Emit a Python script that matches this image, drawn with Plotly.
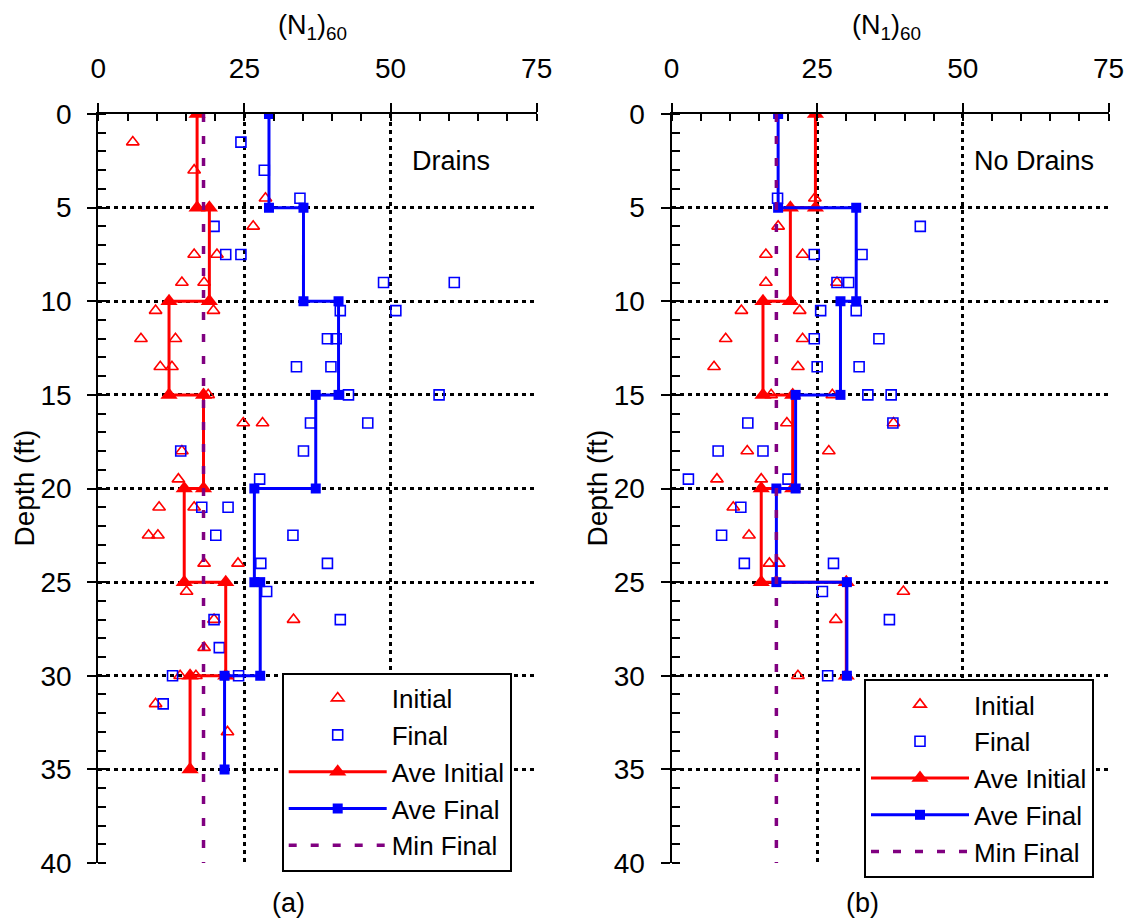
import plotly.graph_objects as go

# ---- data: SPT blow counts (N1)60 versus depth (ft) ----
# Site with drains
drains_init_depth = [1.5, 3, 4.5, 6, 7.5, 7.5, 9, 9, 10.5, 10.5, 12, 12, 13.5, 13.5, 15,
                     16.5, 16.5, 18, 19.5, 21, 21, 22.5, 22.5, 24, 24, 25.5, 27, 27,
                     28.5, 30, 30, 31.5, 33]
drains_init_n = [5.9, 16.4, 28.6, 26.5, 16.4, 20.3, 14.3, 18.1, 9.8, 19.7, 7.3, 13.2, 10.6,
                 12.6, 18.8, 24.8, 28.1, 14.3, 13.7, 10.4, 16.4, 8.6, 10.2, 18.1, 23.9,
                 15.1, 19.8, 33.4, 18.1, 14.0, 16.7, 9.8, 22.1]
drains_final_depth = [1.5, 3, 4.5, 6, 7.5, 7.5, 9, 9, 10.5, 10.5, 12, 12, 13.5, 13.5, 15, 15,
                      16.5, 16.5, 18, 18, 19.5, 21, 21, 22.5, 22.5, 24, 24, 25.5, 27, 27,
                      28.5, 30, 30, 31.5]
drains_final_n = [24.4, 28.4, 34.5, 19.8, 21.8, 24.4, 48.8, 60.9, 41.4, 50.9, 39.2, 40.7,
                  33.9, 39.8, 42.8, 58.3, 36.3, 46.1, 14.1, 35.1, 27.6, 17.7, 22.2, 20.1,
                  33.3, 27.8, 39.2, 28.8, 19.8, 41.4, 20.7, 12.7, 24.0, 11.1]
drains_layer_top = [0, 5, 10, 15, 20, 25, 30]
drains_ave_init = [16.9, 19.0, 12.1, 18.0, 14.7, 21.8, 15.7]
drains_ave_final = [29.2, 35.1, 41.1, 37.2, 26.7, 27.7, 21.6]
drains_min_final = 18.0

# Site without drains
nodrains_init_depth = [4.5, 6, 7.5, 7.5, 9, 9, 10.5, 10.5, 12, 12, 13.5, 13.5, 15, 15, 16.5,
                       16.5, 18, 18, 19.5, 19.5, 21, 22.5, 24, 24, 25.5, 27, 30]
nodrains_init_n = [24.6, 18.3, 16.2, 22.5, 16.2, 28.4, 12.0, 22.0, 9.3, 22.5, 7.3, 21.7,
                   17.1, 27.6, 19.8, 38.1, 13.0, 27.0, 7.8, 15.4, 10.6, 13.3, 16.8, 18.4,
                   39.8, 28.2, 21.7]
nodrains_final_depth = [4.5, 6, 7.5, 7.5, 9, 9, 10.5, 10.5, 12, 12, 13.5, 13.5, 15, 15, 16.5,
                        16.5, 18, 18, 19.5, 19.5, 21, 22.5, 24, 24, 25.5, 27, 30]
nodrains_final_n = [18.2, 42.7, 24.5, 32.7, 28.4, 30.4, 25.6, 31.7, 24.5, 35.6, 25.0, 32.2,
                    33.7, 37.7, 13.1, 38.0, 8.0, 15.7, 2.9, 20.0, 11.9, 8.6, 12.5, 27.8,
                    25.9, 37.4, 26.8]
nodrains_layer_top = [0, 5, 10, 15, 20, 25]
nodrains_ave_init = [24.7, 20.4, 15.7, 20.8, 15.4, 30.0]
nodrains_ave_final = [18.3, 31.7, 29.0, 21.3, 18.0, 30.1]
nodrains_min_final = 18.0

layer_thickness = 5
depth_span = [0, 40]
x_range = [0, 75]
x_ticks = [0, 25, 50, 75]
y_ticks = [0, 5, 10, 15, 20, 25, 30, 35, 40]

FONT = "Liberation Sans"
RED = "#ff0000"
BLUE = "#0000ff"
PURPLE = "#800080"


def step_profile(tops, values, thick):
    """Layer averages drawn as a stepped profile with a vertex at each layer boundary."""
    xs, ys = [], []
    for top, v in zip(tops, values):
        xs += [v, v]
        ys += [top, top + thick]
    return xs, ys


fig = go.Figure()


def add_panel(xa, ya, legend, init_d, init_n, fin_d, fin_n, tops, ave_i, ave_f, min_f):
    fig.add_trace(go.Scatter(
        x=init_n, y=init_d, mode="markers", name="Initial", xaxis=xa, yaxis=ya, legend=legend,
        marker=dict(symbol="triangle-up-open", size=11, color=RED, line=dict(width=1.6, color=RED))))
    fig.add_trace(go.Scatter(
        x=fin_n, y=fin_d, mode="markers", name="Final", xaxis=xa, yaxis=ya, legend=legend,
        marker=dict(symbol="square-open", size=10, color=BLUE, line=dict(width=1.6, color=BLUE))))
    sx, sy = step_profile(tops, ave_i, layer_thickness)
    fig.add_trace(go.Scatter(
        x=sx, y=sy, mode="lines+markers", name="Ave Initial", xaxis=xa, yaxis=ya, legend=legend,
        line=dict(color=RED, width=3),
        marker=dict(symbol="triangle-up", size=15, color=RED)))
    sx, sy = step_profile(tops, ave_f, layer_thickness)
    fig.add_trace(go.Scatter(
        x=sx, y=sy, mode="lines+markers", name="Ave Final", xaxis=xa, yaxis=ya, legend=legend,
        line=dict(color=BLUE, width=3),
        marker=dict(symbol="square", size=10, color=BLUE)))
    fig.add_trace(go.Scatter(
        x=[min_f, min_f], y=depth_span, mode="lines", name="Min Final", xaxis=xa, yaxis=ya,
        legend=legend, line=dict(color=PURPLE, width=3.5, dash="8px,14px")))


add_panel("x", "y", "legend", drains_init_depth, drains_init_n, drains_final_depth,
          drains_final_n, drains_layer_top, drains_ave_init, drains_ave_final, drains_min_final)
add_panel("x2", "y2", "legend2", nodrains_init_depth, nodrains_init_n, nodrains_final_depth,
          nodrains_final_n, nodrains_layer_top, nodrains_ave_init, nodrains_ave_final,
          nodrains_min_final)

grid = dict(showgrid=True, gridcolor="black", gridwidth=2.5, griddash="4px,4px", zeroline=False,
            automargin=False)

xcommon = dict(range=x_range, tickvals=x_ticks, side="top", showline=True, linecolor="black",
               linewidth=2, ticks="outside", ticklen=9, tickwidth=2, tickcolor="black",
               ticklabelstandoff=14, tickfont=dict(family=FONT, size=28, color="black"),
               minor=dict(dtick=5, tick0=0, ticks="inside", ticklen=7, tickwidth=1.5,
                          tickcolor="black", showgrid=False),
               fixedrange=True, **grid)
# companion axes: inner half of the major x ticks (ticks cross the top axis line)
xinner = dict(range=x_range, tickvals=x_ticks, side="top", showline=False, showgrid=False,
              zeroline=False, ticks="inside", ticklen=7, tickwidth=2, tickcolor="black",
              showticklabels=False, automargin=False, fixedrange=True)
ycommon = dict(range=[40, 0], tickvals=y_ticks, showline=True, linecolor="black", linewidth=2,
               ticks="outside", ticklen=9, tickwidth=2, tickcolor="black",
               ticklabelstandoff=10, tickfont=dict(family=FONT, size=28, color="black"),
               minor=dict(dtick=1, tick0=0, ticks="inside", ticklen=8, tickwidth=1.5,
                          tickcolor="black", showgrid=False),
               fixedrange=True, **grid)

W, H = 1134, 922
top_px, bot_px = 114, 863
ydom = [1 - bot_px / H, 1 - top_px / H]
xdom1 = [98.3 / W, 536.7 / W]
xdom2 = [671.5 / W, 1108.5 / W]

legend_common = dict(bgcolor="white", bordercolor="black", borderwidth=2,
                     font=dict(family=FONT, size=26, color="black"),
                     xanchor="left", yanchor="top", itemwidth=98, tracegroupgap=0)

fig.update_layout(
    width=W, height=H,
    margin=dict(l=0, r=0, t=0, b=0, autoexpand=False),
    paper_bgcolor="white", plot_bgcolor="white",
    font=dict(family=FONT, size=27, color="black"),
    xaxis=dict(domain=xdom1, anchor="y", **xcommon),
    yaxis=dict(domain=ydom, anchor="x", **ycommon),
    xaxis2=dict(domain=xdom2, anchor="y2", **xcommon),
    yaxis2=dict(domain=ydom, anchor="x2", **ycommon),
    xaxis3=dict(overlaying="x", anchor="y", **xinner),
    xaxis4=dict(overlaying="x2", anchor="y2", **xinner),
    legend=dict(x=281.7 / W, y=1 - 672.7 / H, **legend_common),
    legend2=dict(x=864 / W, y=1 - 679 / H, **legend_common),
)

ann = []
for cx, lx, tag, label, lab_x in [(312, 23.5, "(a)", "Drains", 410),
                                   (886, 596.5, "(b)", "No Drains", 972)]:
    ann.append(dict(text="(N<sub>1</sub>)<sub>60</sub>", x=cx / W, y=1 - 27 / H,
                    xanchor="center", yanchor="middle", font=dict(family=FONT, size=27)))
    ann.append(dict(text="Depth (ft)", x=lx / W, y=1 - 488 / H, xanchor="center",
                    yanchor="middle", textangle=-90, font=dict(family=FONT, size=28)))
    ann.append(dict(text=tag, x=(cx - 24) / W, y=1 - 903 / H, xanchor="center",
                    yanchor="middle", font=dict(family=FONT, size=27)))
    ann.append(dict(text=label, x=lab_x / W, y=1 - 161 / H, xanchor="left",
                    yanchor="middle", font=dict(family=FONT, size=27)))
for a in ann:
    a.update(xref="paper", yref="paper", showarrow=False)
fig.update_layout(annotations=ann)

fig.write_html("out.html")
